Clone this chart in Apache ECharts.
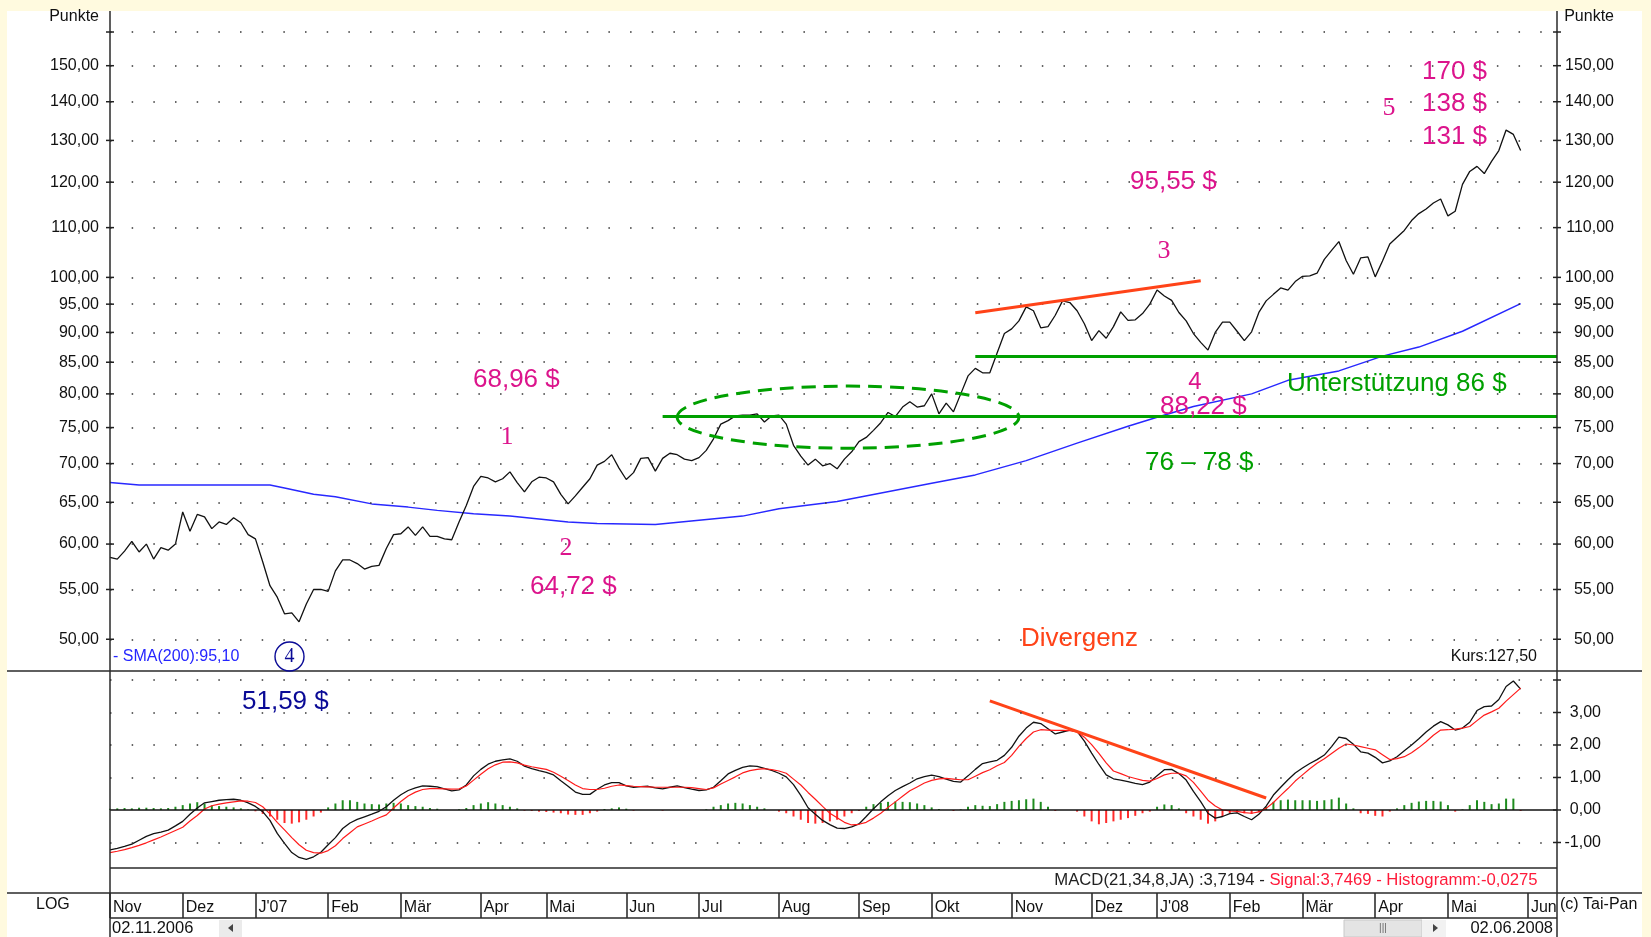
<!DOCTYPE html>
<html><head><meta charset="utf-8">
<script src="https://cdn.jsdelivr.net/npm/echarts@6/dist/echarts.min.js"></script>
<style>html,body{margin:0;padding:0;background:#FFFADF;} #c{width:1651px;height:937px;}</style>
</head><body><div id="c"></div>
<script>
// ---------- data ----------
const monthNames = ['Nov','Dez',"J'07",'Feb','Mär','Apr','Mai','Jun','Jul','Aug','Sep','Okt','Nov','Dez',"J'08",'Feb','Mär','Apr','Mai','Jun'];
const monthSamples = [10,10,10,10,11,9,11,10,11,11,10,11,11,9,10,10,10,10,11,5];

const price = [
58.5,58.3,59.2,60.3,59.1,60.0,58.3,59.6,59.3,60.0,
63.8,61.5,63.5,63.2,61.8,62.6,62.3,63.1,62.5,61.1,
60.6,58.0,55.4,54.2,52.5,52.6,51.7,53.5,55.0,55.0,
54.8,57.0,58.2,58.2,57.8,57.2,57.5,57.6,59.5,61.1,
61.2,62.0,61.0,62.0,60.9,60.9,60.6,60.5,62.6,64.6,
67.0,68.3,68.1,67.6,68.0,68.9,67.5,66.3,67.6,68.2,
68.1,67.6,66.0,64.8,65.8,66.9,68.0,69.8,70.3,71.2,
69.4,67.9,68.8,70.7,70.8,69.0,70.7,71.4,71.2,70.6,
70.4,70.8,71.8,73.4,75.5,76.0,76.7,76.8,76.8,77.0,
75.8,76.7,76.8,75.5,72.5,71.0,69.8,70.6,69.7,70.0,
69.3,70.6,71.6,73.0,73.6,74.6,75.7,77.2,76.6,78.0,
78.8,78.0,78.2,80.0,77.0,78.6,77.3,80.0,82.8,84.0,
83.3,83.3,86.5,89.8,90.6,92.0,94.5,93.8,90.8,91.0,
93.0,95.6,95.3,93.8,91.5,88.6,90.3,89.0,91.0,93.6,
92.1,92.2,93.3,95.0,97.6,96.5,95.7,93.5,92.0,89.8,
88.3,87.0,90.0,91.8,91.8,90.2,88.6,90.1,93.5,95.6,
96.8,98.0,97.6,99.2,100.2,100.3,100.8,103.5,105.3,107.1,
103.3,100.6,103.8,104.0,100.1,103.2,106.6,108.0,109.4,111.5,
113.0,114.0,115.3,116.2,112.5,113.5,119.5,122.5,123.7,122.0,
124.9,127.5,132.6,131.5,127.5];

const smaIdx = [0,4,22,24,28,31,36,41,45,50,55,63,67,75,81,87,92,100,113,119,126,133,140,144,149,157,162,169,175,180,186,194];
const smaVal = [67.5,67.2,67.2,66.8,66.0,65.7,64.8,64.4,64.0,63.6,63.3,62.6,62.4,62.3,62.8,63.3,64.2,65.1,67.4,68.5,70.4,72.8,75.2,76.5,78.1,80.0,82.1,83.6,86.0,87.5,90.2,95.1];

const macd = [
-1.23,-1.18,-1.12,-1.05,-0.93,-0.81,-0.73,-0.68,-0.62,-0.49,
-0.35,-0.13,0.06,0.22,0.26,0.30,0.32,0.33,0.30,0.22,
0.11,-0.05,-0.32,-0.72,-1.03,-1.31,-1.46,-1.52,-1.44,-1.30,
-1.07,-0.85,-0.57,-0.40,-0.29,-0.21,-0.13,-0.04,0.10,0.30,
0.47,0.60,0.68,0.74,0.73,0.71,0.65,0.59,0.62,0.77,
1.05,1.25,1.41,1.50,1.54,1.57,1.50,1.35,1.27,1.21,
1.16,1.08,0.90,0.73,0.55,0.48,0.48,0.64,0.77,0.84,
0.84,0.74,0.70,0.72,0.73,0.68,0.65,0.70,0.74,0.69,
0.64,0.60,0.62,0.70,0.90,1.11,1.22,1.31,1.36,1.34,
1.28,1.22,1.13,1.02,0.78,0.45,0.07,-0.13,-0.32,-0.45,
-0.56,-0.57,-0.52,-0.43,-0.20,0.04,0.25,0.44,0.60,0.72,
0.83,0.96,1.03,1.07,1.03,0.95,0.88,0.86,1.05,1.25,
1.43,1.48,1.53,1.68,1.93,2.27,2.52,2.70,2.66,2.50,
2.34,2.40,2.46,2.42,2.12,1.75,1.40,1.08,0.96,0.92,
0.87,0.82,0.78,0.86,1.05,1.24,1.25,1.12,0.92,0.57,
0.26,-0.10,-0.25,-0.20,-0.11,-0.09,-0.20,-0.30,-0.13,0.12,
0.46,0.70,0.93,1.14,1.29,1.43,1.55,1.69,1.95,2.24,
2.20,2.02,1.79,1.75,1.62,1.45,1.51,1.64,1.82,2.00,
2.19,2.40,2.58,2.72,2.62,2.46,2.52,2.70,3.06,3.18,
3.20,3.40,3.80,3.97,3.72];

const signal = [
-1.31,-1.27,-1.22,-1.16,-1.09,-1.01,-0.92,-0.83,-0.73,-0.63,
-0.53,-0.34,-0.17,0.03,0.13,0.18,0.22,0.25,0.28,0.27,
0.23,0.10,-0.12,-0.38,-0.61,-0.85,-1.07,-1.24,-1.31,-1.33,
-1.25,-1.10,-0.88,-0.70,-0.52,-0.43,-0.34,-0.24,-0.15,0.06,
0.26,0.43,0.55,0.63,0.66,0.66,0.65,0.64,0.65,0.74,
0.92,1.10,1.27,1.39,1.47,1.48,1.45,1.38,1.33,1.29,
1.25,1.16,1.04,0.91,0.77,0.66,0.63,0.63,0.67,0.73,
0.77,0.75,0.73,0.72,0.71,0.70,0.70,0.70,0.70,0.70,
0.69,0.66,0.63,0.68,0.80,0.91,1.02,1.14,1.21,1.25,
1.27,1.24,1.20,1.13,0.95,0.77,0.54,0.33,0.11,-0.10,
-0.24,-0.38,-0.46,-0.44,-0.38,-0.25,-0.10,0.08,0.25,0.42,
0.59,0.71,0.83,0.91,0.96,0.97,0.95,0.93,0.93,1.04,
1.15,1.24,1.36,1.46,1.68,1.96,2.20,2.40,2.47,2.46,
2.45,2.45,2.44,2.40,2.24,2.01,1.74,1.45,1.20,1.12,
1.03,0.97,0.91,0.89,0.97,1.08,1.13,1.13,1.05,0.85,
0.58,0.30,0.12,0.00,-0.03,-0.04,-0.08,-0.10,-0.06,0.05,
0.23,0.45,0.66,0.89,1.08,1.27,1.44,1.58,1.74,1.90,
2.03,2.00,1.95,1.90,1.85,1.70,1.55,1.58,1.64,1.76,
1.92,2.10,2.30,2.46,2.47,2.49,2.52,2.57,2.75,2.92,
3.02,3.13,3.35,3.55,3.75];

const hist = [
0.04,0.05,0.06,0.05,0.07,0.07,0.06,0.05,0.06,0.10,
0.15,0.20,0.24,0.20,0.14,0.12,0.10,0.08,0.05,0.02,
-0.04,-0.12,-0.20,-0.30,-0.40,-0.42,-0.38,-0.30,-0.20,-0.08,
0.08,0.20,0.30,0.30,0.25,0.20,0.18,0.17,0.20,0.22,
0.20,0.15,0.12,0.10,0.06,0.04,0.00,0.00,0.02,0.06,
0.15,0.20,0.24,0.20,0.15,0.10,0.05,-0.02,-0.03,-0.05,
-0.06,-0.08,-0.10,-0.14,-0.15,-0.15,-0.10,-0.05,0.03,0.05,
0.08,0.04,-0.02,0.00,0.00,0.00,-0.02,0.00,0.00,0.00,
0.00,0.00,0.02,0.10,0.15,0.20,0.22,0.20,0.15,0.10,
0.05,0.00,-0.05,-0.10,-0.20,-0.30,-0.40,-0.42,-0.40,-0.35,
-0.30,-0.20,-0.10,-0.03,0.10,0.18,0.22,0.25,0.26,0.25,
0.24,0.20,0.15,0.08,0.03,0.00,-0.03,0.02,0.10,0.15,
0.13,0.12,0.18,0.25,0.28,0.30,0.33,0.35,0.25,0.10,
-0.03,0.00,0.00,-0.05,-0.20,-0.35,-0.44,-0.40,-0.35,-0.30,
-0.25,-0.18,-0.10,-0.05,0.10,0.17,0.15,0.05,-0.10,-0.20,
-0.30,-0.42,-0.35,-0.20,-0.10,-0.08,-0.10,-0.12,-0.06,0.10,
0.25,0.30,0.32,0.30,0.30,0.30,0.28,0.30,0.33,0.38,
0.20,0.05,-0.10,-0.12,-0.18,-0.20,-0.05,0.05,0.15,0.22,
0.26,0.28,0.28,0.26,0.15,-0.05,0.02,0.15,0.30,0.25,
0.18,0.20,0.35,0.35,-0.03];

const priceTicks = [50,55,60,65,70,75,80,85,90,95,100,110,120,130,140,150];
const priceGridVals = [50,55,60,65,70,75,80,85,90,95,100,110,120,130,140,150,160];
const macdTicks = [-1,0,1,2,3];
const macdGridVals = [-1,1,2,3,4];

// annotation anchors (sample index, value)
const resistLine = [[119, 93.45],[150, 99.36]];
const supportHigh = {from:119, to:199, value:86.05};
const supportLow = {from:76, to:199, value:76.68};
const divergLine = [[121, 3.36],[159, 0.37]];
const ellipseBox = {left:78, right:125, center:101, mid:76.5, top:81.2, bottom:72.1};

// ---------- build ----------
const cats = [], monthStart = [];
for (let mi = 0; mi < monthNames.length; mi++) {
  for (let k = 0; k < monthSamples[mi]; k++) { cats.push(monthNames[mi] + '|' + cats.length); monthStart.push(k === 0); }
}
const fmt = v => Number(v).toFixed(2).replace('.', ',');
const FF = 'Liberation Sans';
const MAG = '#DC148C', GREEN = '#00A000', ORANGE = '#FF4318', NAVY = '#0A0A96';
const dotStyle = {type:[1.5, 20.17], color:'#333', width:1.5};

const chart = echarts.init(document.getElementById('c'), null, {renderer:'canvas'});
const option = {
  animation:false,
  backgroundColor:'#FFFADF',
  textStyle:{fontFamily:FF},
  grid:[
    {left:110, right:94, top:11, height:660},
    {left:110, right:94, top:671, height:197},
    {left:110, right:94, top:893, height:25}
  ],
  xAxis:[
    {gridIndex:0, type:'category', data:cats, boundaryGap:false, show:false},
    {gridIndex:1, type:'category', data:cats, boundaryGap:false, show:false},
    {gridIndex:2, type:'category', data:cats, boundaryGap:false, position:'bottom',
     axisLine:{show:false},
     axisTick:{show:false},
     axisLabel:{show:true, inside:true, margin:2, interval:(i)=>monthStart[i], align:'left', padding:[0,0,0,3],
       formatter:(v)=>v.split('|')[0], color:'#111', fontSize:16, fontFamily:FF},
     splitLine:{show:true, interval:(i)=>monthStart[i], lineStyle:{color:'#222', width:1.5}}}
  ],
  yAxis:[
    {gridIndex:0, type:'log', min:47.05, max:166.57, show:false},
    {gridIndex:1, type:'value', min:-1.785, max:4.277, show:false},
    {gridIndex:2, type:'value', show:false}
  ],
  series:[
    {type:'line', name:'Kurs', xAxisIndex:0, yAxisIndex:0, data:price, showSymbol:false, symbol:'none',
     lineStyle:{color:'#111', width:1.3}, z:3, emphasis:{disabled:true},
     markLine:{silent:true, symbol:['none','none'], animation:false, emphasis:{disabled:true},
       lineStyle:dotStyle,
       label:{show:true, position:'start', distance:11, formatter:p=>fmt(p.value), color:'#111', fontSize:16, fontFamily:FF},
       data: priceGridVals.map(v=>({yAxis:v, label:{show:v!==160}})).concat([
         [{coord:resistLine[0]},{coord:resistLine[1], lineStyle:{color:ORANGE, width:3, type:'solid'}, label:{show:false}}],
         [{coord:[supportHigh.from, supportHigh.value]},{coord:[supportHigh.to, supportHigh.value], lineStyle:{color:GREEN, width:3, type:'solid'}, label:{show:false}}],
         [{coord:[supportLow.from, supportLow.value]},{coord:[supportLow.to, supportLow.value], lineStyle:{color:GREEN, width:3, type:'solid'}, label:{show:false}}]
       ])}
    },
    {type:'line', name:'SMA(200)', xAxisIndex:0, yAxisIndex:0, data:smaIdx.map((i,k)=>[i, smaVal[k]]), showSymbol:false, symbol:'none',
     lineStyle:{color:'#2828FF', width:1.5}, z:2, emphasis:{disabled:true},
     markLine:{silent:true, symbol:['none','none'], animation:false, emphasis:{disabled:true},
       lineStyle:{color:'rgba(0,0,0,0)', width:0},
       label:{show:true, position:'end', distance:7, formatter:p=>'{a|'+fmt(p.value)+'}',
         rich:{a:{width:50, align:'right', fontSize:16, fontFamily:FF, color:'#111'}}},
       data: priceTicks.map(v=>({yAxis:v}))}
    },
    {type:'bar', name:'Histogramm', xAxisIndex:1, yAxisIndex:1, data:hist, barWidth:2,
     itemStyle:{color:p=>p.value>=0?'#1E8C1E':'#FF2A2A'}, emphasis:{disabled:true},
     markLine:{silent:true, symbol:['none','none'], animation:false, emphasis:{disabled:true},
       label:{show:false},
       data:[[{coord:divergLine[0]},{coord:divergLine[1], lineStyle:{color:ORANGE, width:3, type:'solid'}}]]}
    },
    {type:'line', name:'MACD', xAxisIndex:1, yAxisIndex:1, data:macd, showSymbol:false, symbol:'none',
     lineStyle:{color:'#111', width:1.3}, z:3, emphasis:{disabled:true},
     markLine:{silent:true, symbol:['none','none'], animation:false, emphasis:{disabled:true},
       lineStyle:dotStyle, label:{show:false},
       data: macdGridVals.map(v=>({yAxis:v})).concat([{yAxis:0, lineStyle:{color:'#111', width:1.5, type:'solid'}}])}
    },
    {type:'line', name:'Signal', xAxisIndex:1, yAxisIndex:1, data:signal, showSymbol:false, symbol:'none',
     lineStyle:{color:'#FF1A1A', width:1.2}, z:4, emphasis:{disabled:true},
     markLine:{silent:true, symbol:['none','none'], animation:false, emphasis:{disabled:true},
       lineStyle:{color:'rgba(0,0,0,0)', width:0},
       label:{show:true, position:'end', distance:4, formatter:p=>'{a|'+fmt(p.value)+'}',
         rich:{a:{width:40, align:'right', fontSize:16, fontFamily:FF, color:'#111'}}},
       data: macdTicks.map(v=>({yAxis:v}))}
    }
  ]
};
chart.setOption(option);

// ---------- decorations (positions via the chart's scales) ----------
const P0 = (i,v)=>chart.convertToPixel({xAxisIndex:0, yAxisIndex:0}, [i,v]);
const P1 = (i,v)=>chart.convertToPixel({xAxisIndex:1, yAxisIndex:1}, [i,v]);
const F = (s, fam) => s + 'px "' + (fam || FF) + '"';
function T(x, y, text, font, fill, align) {
  return {type:'text', x:x, y:y, z:50, silent:true,
    style:{text:text, font:font, fill:fill, align:align||'left', verticalAlign:'middle', textAlign:align||'left', textVerticalAlign:'middle'}};
}
function L(x1,y1,x2,y2,w,c,z) {
  return {type:'line', z:z||30, silent:true, shape:{x1,y1,x2,y2}, style:{stroke:c||'#2a2a2a', lineWidth:w||1.5}};
}
const els = [];
els.push({type:'rect', z:-100, silent:true, shape:{x:7, y:11, width:1635, height:926}, style:{fill:'#FFFFFF'}});
// frame
els.push(L(7,671,1642,671));
els.push(L(110,868,1557,868));
els.push(L(7,893,1642,893));
els.push(L(110,918,1557,918));
els.push(L(110,11,110,937));
els.push(L(1557,11,1557,937));
// axis ticks
priceGridVals.forEach(v=>{ const y = P0(0,v)[1]; els.push(L(106,y,114,y,1.5,'#222')); els.push(L(1553,y,1561,y,1.5,'#222')); });
macdTicks.concat([4]).forEach(v=>{ const y = P1(0,v)[1]; els.push(L(1553,y,1561,y,1.5,'#222')); });
// ellipse
const eL = P0(ellipseBox.left, ellipseBox.mid)[0], eR = P0(ellipseBox.right, ellipseBox.mid)[0];
const eT = P0(ellipseBox.center, ellipseBox.top)[1], eB = P0(ellipseBox.center, ellipseBox.bottom)[1];
els.push({type:'ellipse', z:40, silent:true, shape:{cx:(eL+eR)/2, cy:(eT+eB)/2, rx:(eR-eL)/2, ry:(eB-eT)/2},
  style:{fill:'transparent', stroke:GREEN, lineWidth:3, lineDash:[14,8]}});
// texts
const S = 'Liberation Serif';
els.push(T(99,17,'Punkte',F(16),'#111','right'));
els.push(T(1614,17,'Punkte',F(16),'#111','right'));
els.push(T(473,380,'68,96 $',F(26),MAG));
els.push(T(507,437,'1',F(26,S),MAG,'center'));
els.push(T(566,548,'2',F(26,S),MAG,'center'));
els.push(T(530,587,'64,72 $',F(26),MAG));
els.push(T(1130,182,'95,55 $',F(26),MAG));
els.push(T(1164,251,'3',F(26,S),MAG,'center'));
els.push(T(1195,382,'4',F(24),MAG,'center'));
els.push(T(1160,407,'88,22 $',F(26),MAG));
els.push(T(1389,108,'5',F(26,S),MAG,'center'));
els.push(T(1422,72,'170 $',F(26),MAG));
els.push(T(1422,104,'138 $',F(26),MAG));
els.push(T(1422,137,'131 $',F(26),MAG));
els.push(T(1287,384,'Unterstützung 86 $',F(26),GREEN));
els.push(T(1145,463,'76 – 78 $',F(26),GREEN));
els.push(T(1021,639,'Divergenz',F(26),ORANGE));
els.push(T(242,702,'51,59 $',F(26),NAVY));
els.push({type:'circle', z:45, silent:true, shape:{cx:289.5, cy:656.5, r:14.5}, style:{fill:'transparent', stroke:NAVY, lineWidth:1.4}});
els.push(T(289.5,657,'4',F(20,S),NAVY,'center'));
els.push(T(113,657,'- SMA(200):95,10',F(16),'#2525FF'));
els.push(T(1537,657,'Kurs:127,50',F(16),'#111','right'));
els.push({type:'text', x:1537.5, y:880, z:50, silent:true, style:{
  text:'{a|MACD(21,34,8,JA) :3,7194 - }{b|Signal:3,7469 - Histogramm:-0,0275}',
  rich:{a:{fill:'#222', font:F(16.7)}, b:{fill:'#FF1A3A', font:F(16.7)}},
  font:F(16.7), align:'right', verticalAlign:'middle', textAlign:'right', textVerticalAlign:'middle'}});
els.push(T(36,905,'LOG',F(16),'#111'));
els.push(T(1560,905,'(c) Tai-Pan',F(16),'#111'));
els.push(T(112,928,'02.11.2006',F(16.5),'#111'));
els.push(T(1553,928,'02.06.2008',F(16.5),'#111','right'));
// scroll widgets
els.push({type:'rect', z:20, silent:true, shape:{x:219, y:920, width:23, height:17}, style:{fill:'#EBEBEB'}});
els.push({type:'polygon', z:21, silent:true, shape:{points:[[233,924],[233,932],[228,928]]}, style:{fill:'#444'}});
els.push({type:'rect', z:20, silent:true, shape:{x:1344, y:920, width:78, height:17}, style:{fill:'#E4E4E4', stroke:'#C8C8C8', lineWidth:1}});
els.push(T(1383,928,'|||',F(10),'#666','center'));
els.push({type:'rect', z:20, silent:true, shape:{x:1422, y:920, width:24, height:17}, style:{fill:'#F2F2F2'}});
els.push({type:'polygon', z:21, silent:true, shape:{points:[[1433,924],[1433,932],[1438,928]]}, style:{fill:'#444'}});

chart.setOption({graphic:{elements:els}});
</script>
</body></html>
